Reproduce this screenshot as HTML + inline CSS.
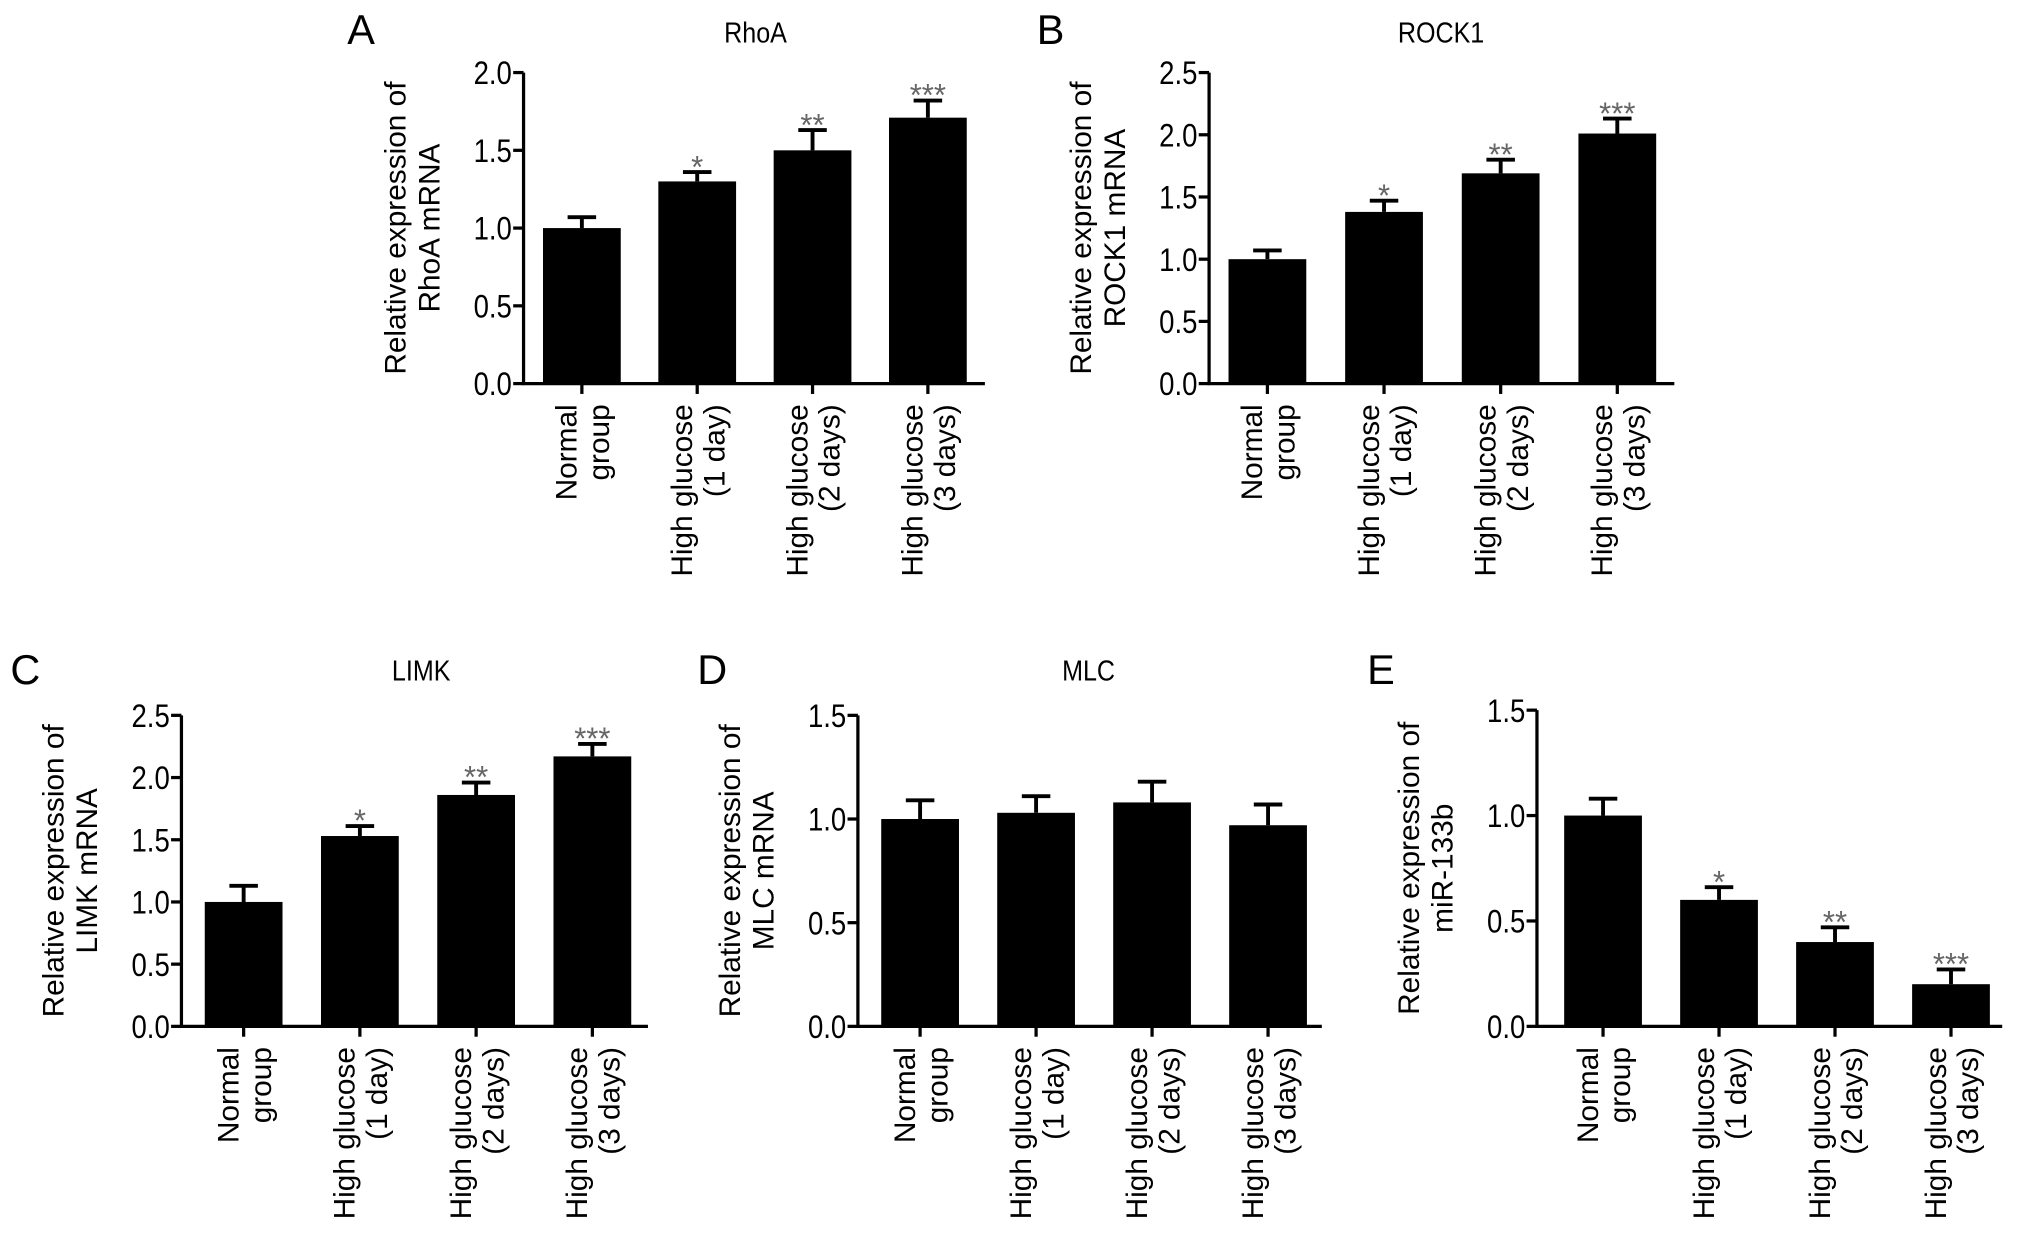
<!DOCTYPE html>
<html><head><meta charset="utf-8"><style>
html,body{margin:0;padding:0;background:#fff;}
svg{display:block;font-family:"Liberation Sans",Arial,sans-serif;}
</style></head><body>
<svg id="fig" width="2032" height="1235" viewBox="0 0 1568 953" xmlns="http://www.w3.org/2000/svg"></svg>
<script>
const categories = [["Normal","group"],["High glucose","(1 day)"],["High glucose","(2 days)"],["High glucose","(3 days)"]];
const rhoaValues = [1.0, 1.30, 1.50, 1.71];
const rhoaErrors = [0.07, 0.06, 0.13, 0.11];
const rock1Values = [1.0, 1.38, 1.69, 2.01];
const rock1Errors = [0.07, 0.09, 0.11, 0.12];
const limkValues = [1.0, 1.53, 1.86, 2.17];
const limkErrors = [0.13, 0.08, 0.10, 0.10];
const mlcValues = [1.0, 1.03, 1.08, 0.97];
const mlcErrors = [0.09, 0.08, 0.10, 0.10];
const mirValues = [1.0, 0.60, 0.40, 0.20];
const mirErrors = [0.08, 0.06, 0.07, 0.07];
const sigMarks = ["", "*", "**", "***"];
const noMarks = ["", "", "", ""];
const ticks20 = [0, 0.5, 1.0, 1.5, 2.0];
const ticks25 = [0, 0.5, 1.0, 1.5, 2.0, 2.5];
const ticks15 = [0, 0.5, 1.0, 1.5];

const NS = "http://www.w3.org/2000/svg";
const svg = document.getElementById('fig');
function mk(tag, attrs, parent, text){
  const e = document.createElementNS(NS, tag);
  for (const k in attrs) e.setAttribute(k, attrs[k]);
  if (text !== undefined) e.textContent = text;
  (parent || svg).appendChild(e);
  return e;
}

function panel(p){
  const g = mk('g', {});
  
  
  const ymax = p.ticks[p.ticks.length-1];
  const y = v => p.y0 - (v / ymax) * (p.y0 - p.y1);
  const xs = i => p.xc0 + i * p.step;
  const L = mk('text', {x:p.lx, y:p.ly, 'font-size':32}, g, p.letter);
  
  
  if (p.title){
    const t = mk('text', {x:p.tx, y:p.ty, 'font-size':22, 'text-anchor':'middle', transform:`translate(${p.tx},0) scale(0.88,1) translate(${-p.tx},0)`}, g, p.title);
    
    
  }
  const yl = mk('text', {transform:`translate(${p.ax-86},${(p.y0+p.y1)/2}) rotate(-90)`, 'font-size':23, 'text-anchor':'middle'}, g);
  
  
  mk('tspan', {x:0, y:-5}, yl, "Relative expression of");
  mk('tspan', {x:0, y:21}, yl, p.ylabel);
  p.values.forEach((v,i)=>{
    const cx = xs(i);
    const top = y(v), et = y(v + p.errors[i]);
    const b = mk('rect', {x:cx-30, y:top, width:60, height:p.y0-top, fill:'#000'}, g);
    
    
    const e = mk('path', {d:`M${cx},${top} V${et} M${cx-11},${et} H${cx+11}`, stroke:'#000', 'stroke-width':3, fill:'none'}, g);
    
    
    if (p.marks[i]){
      const s = mk('text', {x:cx, y:et+4, 'font-size':24, 'text-anchor':'middle', fill:'#666'}, g, p.marks[i]);
      
      
    }
    mk('line', {x1:cx, x2:cx, y1:p.y0, y2:p.y0+8, stroke:'#000', 'stroke-width':2.5}, g);
    const cat = categories[i];
    const tl = mk('text', {transform:`translate(${cx},${p.y0+16}) rotate(-90)`, 'font-size':23, 'text-anchor':'end'}, g);
    
    
    mk('tspan', {x:0, y:-4}, tl, cat[0]);
    mk('tspan', {x:0, y:21}, tl, cat[1]);
  });
  const ax = mk('path', {d:`M${p.ax},${p.y1} V${p.y0} H${p.xend}`, stroke:'#000', 'stroke-width':2.5, fill:'none'}, g);
  
  
  p.ticks.forEach(t=>{
    const yy = y(t);
    mk('line', {x1:p.ax-8, x2:p.ax, y1:yy, y2:yy, stroke:'#000', 'stroke-width':2.5}, g);
    const tx = p.ax-9;
    const tt = mk('text', {x:tx, y:yy+9, 'font-size':25, 'text-anchor':'end', transform:`translate(${tx},0) scale(0.85,1) translate(${-tx},0)`}, g, t.toFixed(1));
    
    
  });
}

panel({id:'rhoa', letter:'A', lx:268, ly:34, title:'RhoA', tx:583, ty:33, ylabel:'RhoA mRNA',
  ax:404, y0:296, y1:56, xend:760, xc0:449, step:89, ticks:ticks20, values:rhoaValues, errors:rhoaErrors, marks:sigMarks});
panel({id:'rock1', letter:'B', lx:800, ly:34, title:'ROCK1', tx:1112, ty:33, ylabel:'ROCK1 mRNA',
  ax:933, y0:296, y1:56, xend:1292, xc0:978, step:90, ticks:ticks25, values:rock1Values, errors:rock1Errors, marks:sigMarks});
panel({id:'limk', letter:'C', lx:8, ly:528, title:'LIMK', tx:325, ty:525, ylabel:'LIMK mRNA',
  ax:140, y0:792, y1:552, xend:500, xc0:188, step:89.7, ticks:ticks25, values:limkValues, errors:limkErrors, marks:sigMarks});
panel({id:'mlc', letter:'D', lx:538, ly:528, title:'MLC', tx:840, ty:525, ylabel:'MLC mRNA',
  ax:662, y0:792, y1:552, xend:1020, xc0:710, step:89.5, ticks:ticks15, values:mlcValues, errors:mlcErrors, marks:noMarks});
panel({id:'mir133b', letter:'E', lx:1055, ly:528, title:'', tx:0, ty:0, ylabel:'miR-133b',
  ax:1186, y0:792, y1:548, xend:1545, xc0:1237, step:89.5, ticks:ticks15, values:mirValues, errors:mirErrors, marks:sigMarks});
</script>
</body></html>
